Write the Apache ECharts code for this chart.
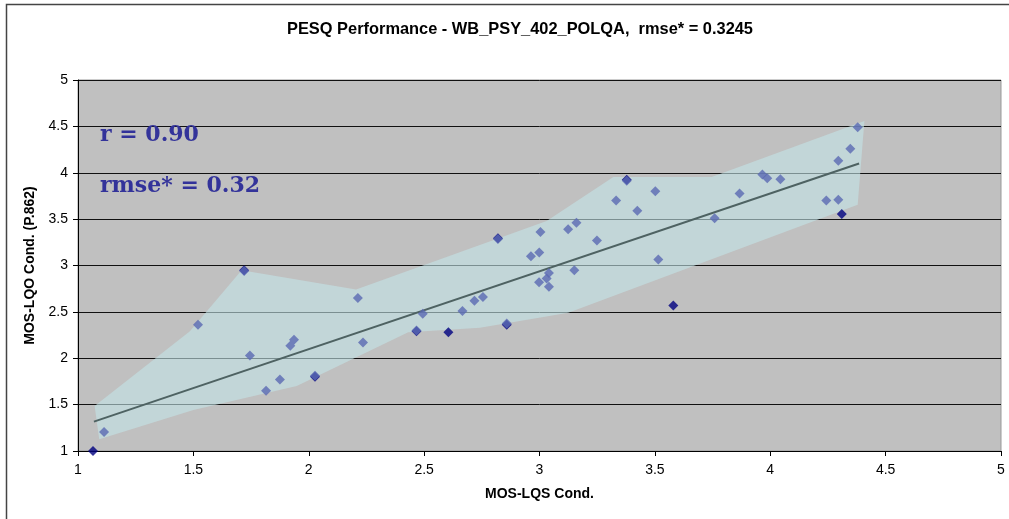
<!DOCTYPE html>
<html>
<head>
<meta charset="utf-8">
<script src="https://cdn.jsdelivr.net/npm/echarts@6/dist/echarts.min.js"></script>
<style>
  html, body { margin: 0; padding: 0; background: #fff; }
  #main { width: 1009px; height: 519px; }
</style>
</head>
<body>
<div id="main"></div>
<script>
// light markers (x = MOS-LQS, y = MOS-LQO)
var lightPts = [
  [1.113, 1.205], [1.52, 2.36], [1.72, 2.94], [1.745, 2.03], [1.815, 1.65],
  [1.875, 1.77], [1.92, 2.135], [1.936, 2.2], [2.027, 1.81], [2.213, 2.65],
  [2.235, 2.17], [2.467, 2.30], [2.494, 2.48], [2.666, 2.51], [2.718, 2.62],
  [2.755, 2.66], [2.82, 3.285], [2.858, 2.375], [2.963, 3.10], [2.999, 3.14],
  [3.004, 3.36], [2.998, 2.82], [3.031, 2.86], [3.041, 2.92], [3.041, 2.77],
  [3.124, 3.39], [3.16, 3.46], [3.151, 2.95], [3.249, 3.27], [3.332, 3.70],
  [3.378, 3.915], [3.424, 3.59], [3.502, 3.80], [3.515, 3.065], [3.759, 3.51],
  [3.867, 3.775], [3.966, 3.98], [3.987, 3.94], [4.044, 3.93], [4.243, 3.70],
  [4.295, 3.71], [4.295, 4.13], [4.347, 4.26], [4.379, 4.49]
]
// dark markers
var darkPts = [
  [1.065, 1.0], [1.72, 2.95], [2.027, 1.80], [2.467, 2.29], [2.605, 2.28],
  [2.82, 3.295], [2.858, 2.36], [3.378, 3.925], [3.58, 2.57], [4.31, 3.555]
]
// regression line
var fitLine = [[1.069, 1.317], [4.385, 4.10]]
// shaded band outline
var bandX = [1.072, 1.485, 1.709, 2.205, 3.031, 3.32, 3.746, 4.408, 4.379, 3.125, 2.742, 2.431, 1.948, 1.5, 1.092]
var bandY = [1.486, 2.29, 2.95, 2.74, 3.48, 3.955, 3.955, 4.557, 3.656, 2.49, 2.33, 2.28, 1.70, 1.443, 1.126]
var axisTicks = [1, 1.5, 2, 2.5, 3, 3.5, 4, 4.5, 5]

var chart = echarts.init(document.getElementById('main'))
var sans = 'Liberation Sans'

var option = {
  backgroundColor: '#fff',
  animation: false,
  title: {
    text: 'PESQ Performance - WB_PSY_402_POLQA,  rmse* = 0.3245',
    left: 287,
    top: 21,
    padding: 0,
    textStyle: { fontFamily: sans, fontSize: 16.4, fontWeight: 'bold', color: '#000' }
  },
  graphic: [
    {
      type: 'rect',
      shape: { x: 6.5, y: 4.5, width: 1012, height: 530 },
      style: { fill: null, stroke: '#444', lineWidth: 1.5 },
      silent: true
    },
    {
      type: 'text',
      left: 100,
      top: 124,
      style: { text: 'r = 0.90', font: 'bold 22px "DejaVu Serif"', fill: '#33339A' },
      z: 100
    },
    {
      type: 'text',
      left: 100,
      top: 175,
      style: { text: 'rmse* = 0.32', font: 'bold 22px "DejaVu Serif"', fill: '#33339A' },
      z: 100
    }
  ],
  grid: {
    left: 78, right: 8, top: 80, bottom: 68,
    show: true,
    backgroundColor: '#C0C0C0',
    borderColor: '#999',
    borderWidth: 1
  },
  xAxis: {
    type: 'value',
    min: axisTicks[0], max: axisTicks[axisTicks.length - 1], interval: 0.5,
    name: 'MOS-LQS Cond.',
    nameLocation: 'middle',
    nameGap: 36,
    nameTextStyle: { fontFamily: sans, fontSize: 14, fontWeight: 'bold', color: '#000' },
    axisLine: { show: true, onZero: false, lineStyle: { color: '#000', width: 1 } },
    axisTick: { show: true, length: 5, lineStyle: { color: '#000' } },
    axisLabel: { fontFamily: sans, fontSize: 14, color: '#000', margin: 12 },
    splitLine: { show: false }
  },
  yAxis: {
    type: 'value',
    min: axisTicks[0], max: axisTicks[axisTicks.length - 1], interval: 0.5,
    name: 'MOS-LQO Cond. (P.862)',
    nameLocation: 'middle',
    nameRotate: 90,
    nameGap: 40,
    nameTextStyle: { fontFamily: sans, fontSize: 14, fontWeight: 'bold', color: '#000' },
    axisLine: { show: true, onZero: false, lineStyle: { color: '#000', width: 1 } },
    axisTick: { show: true, length: 5, lineStyle: { color: '#000' } },
    axisLabel: { fontFamily: sans, fontSize: 14, color: '#000', margin: 10 },
    splitLine: { show: true, lineStyle: { color: '#111', width: 1 } }
  },
  series: [
    {
      type: 'custom',
      name: 'band',
      data: [[bandX[0], bandY[0]]],
      renderItem: function (params, api) {
        var pts = bandX.map(function (x, i) { return api.coord([x, bandY[i]]) })
        return {
          type: 'polygon',
          shape: { points: pts },
          style: { fill: 'rgba(195,229,232,0.6)' }
        }
      },
      z: 1
    },
    {
      type: 'line',
      name: 'fit',
      data: fitLine,
      showSymbol: false,
      symbol: 'none',
      lineStyle: { color: '#4E6262', width: 2 },
      z: 2
    },
    {
      type: 'scatter',
      name: 'dark',
      data: darkPts,
      symbol: 'diamond',
      symbolSize: 10,
      clip: false,
      itemStyle: { color: '#000080' },
      z: 3
    },
    {
      type: 'scatter',
      name: 'light',
      data: lightPts,
      symbol: 'diamond',
      symbolSize: 10,
      clip: false,
      itemStyle: { color: '#5A69B3' },
      z: 4
    }
  ]
}
chart.setOption(option)
</script>
</body>
</html>
